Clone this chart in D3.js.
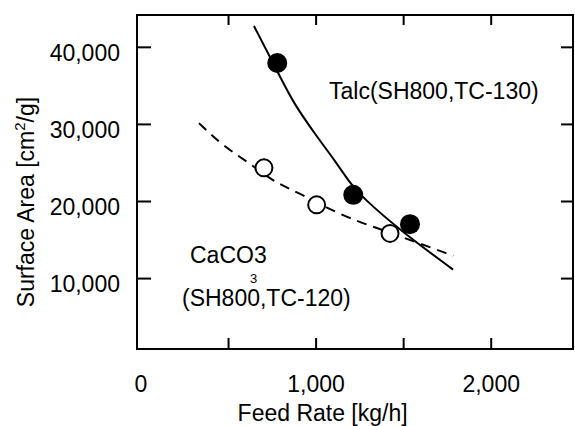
<!DOCTYPE html>
<html>
<head>
<meta charset="utf-8">
<script src="https://cdn.jsdelivr.net/npm/d3@7"></script>
<style>
  html, body { margin: 0; padding: 0; background: #fff; }
  text { font-family: "Liberation Sans", Arial, sans-serif; fill: #000; }
</style>
</head>
<body>
<svg id="chart" width="575" height="426"></svg>
<script>
// ---- data ----
const talcPoints = [[781, 37900], [1215, 20800], [1539, 17000]];
const caco3Points = [[705, 24300], [1006, 19500], [1425, 15800]];
const talcCurve = [[648, 42700], [787, 36600], [873, 32700], [1006, 28400], [1121, 24900],
                   [1197, 22300], [1271, 20400], [1482, 16200], [1785, 11100]];
const caco3Curve = [[334, 30100], [473, 27100], [625, 24900], [758, 22500], [911, 21000],
                    [1139, 18200], [1349, 16500], [1539, 14950], [1786, 12900]];
const xTicks = [500, 1000, 1500, 2000];
const xTickLabels = [0, 1000, 2000];
const yTicks = [10000, 20000, 30000, 40000];
const talcLabel = "Talc(SH800,TC-130)";
const caco3Label1 = "CaCO3";
const caco3Sub = "3";
const caco3Label2 = "(SH800,TC-120)";
const xTitle = "Feed Rate [kg/h]";

// ---- layout ----
const svg = d3.select("#chart");
const L = 137, R = 573, T = 15, B = 349;
const x = d3.scaleLinear().domain([-20, 2470]).range([L, R]);
const y = d3.scaleLinear().domain([800, 44130]).range([B, T]);
const fmt = d3.format(",");
const FS = 23;

// frame
svg.append("rect").attr("x", L).attr("y", T).attr("width", R - L).attr("height", B - T)
  .attr("fill", "none").attr("stroke", "#000").attr("stroke-width", 2);

function styleTicks(g) {
  g.select(".domain").remove();
  g.selectAll(".tick line").attr("stroke", "#000").attr("stroke-width", 2);
}
// inner ticks on all four sides
svg.append("g").attr("transform", `translate(0,${B})`)
  .call(d3.axisBottom(x).tickValues(xTicks).tickSize(-11).tickFormat(""))
  .call(styleTicks);
svg.append("g").attr("transform", `translate(0,${T})`)
  .call(d3.axisTop(x).tickValues(xTicks).tickSize(-10).tickFormat(""))
  .call(styleTicks);
svg.append("g").attr("transform", `translate(${L},0)`)
  .call(d3.axisLeft(y).tickValues(yTicks).tickSize(-14).tickFormat(""))
  .call(styleTicks);
svg.append("g").attr("transform", `translate(${R},0)`)
  .call(d3.axisRight(y).tickValues(yTicks).tickSize(-12).tickFormat(""))
  .call(styleTicks);

// tick labels
const xl = svg.append("g").attr("transform", `translate(0,${B})`)
  .call(d3.axisBottom(x).tickValues(xTickLabels).tickSize(0).tickPadding(27).tickFormat(fmt));
xl.select(".domain").remove();
xl.selectAll("text").attr("font-size", FS).attr("font-family", "Liberation Sans, Arial, sans-serif");

const yl = svg.append("g").attr("transform", `translate(${L},0)`)
  .call(d3.axisLeft(y).tickValues(yTicks).tickSize(0).tickPadding(17).tickFormat(fmt));
yl.select(".domain").remove();
yl.selectAll("text").attr("font-size", FS).attr("dy", "0.6em")
  .attr("font-family", "Liberation Sans, Arial, sans-serif");

// axis titles
svg.append("text").attr("x", (x(1000) + x(1000)) / 2 + 7).attr("y", 421)
  .attr("text-anchor", "middle").attr("font-size", FS).text(xTitle);

const yt = svg.append("text").attr("transform", "translate(34,202) rotate(-90)")
  .attr("text-anchor", "middle").attr("font-size", FS);
yt.append("tspan").text("Surface Area [cm");
yt.append("tspan").attr("dy", -9).attr("font-size", 15).text("2");
yt.append("tspan").attr("dy", 9).text("/g]");

// curves
const line = d3.line().x(d => x(d[0])).y(d => y(d[1])).curve(d3.curveBasis);
svg.append("path").datum(talcCurve).attr("d", line)
  .attr("fill", "none").attr("stroke", "#000").attr("stroke-width", 2);
svg.append("path").datum(caco3Curve).attr("d", line)
  .attr("fill", "none").attr("stroke", "#000").attr("stroke-width", 2)
  .attr("stroke-dasharray", "10,7");

// points
svg.selectAll("circle.talc").data(talcPoints).join("circle").attr("class", "talc")
  .attr("cx", d => x(d[0])).attr("cy", d => y(d[1])).attr("r", 10)
  .attr("fill", "#000");
svg.selectAll("circle.caco3").data(caco3Points).join("circle").attr("class", "caco3")
  .attr("cx", d => x(d[0])).attr("cy", d => y(d[1])).attr("r", 8.5)
  .attr("fill", "#fff").attr("stroke", "#000").attr("stroke-width", 2);

// annotations
svg.append("text").attr("x", 329).attr("y", 99).attr("font-size", FS).text(talcLabel);
svg.append("text").attr("x", 190).attr("y", 263).attr("font-size", FS).text(caco3Label1);
svg.append("text").attr("x", 250).attr("y", 283).attr("font-size", 13).text(caco3Sub);
svg.append("text").attr("x", 182).attr("y", 306).attr("font-size", FS).text(caco3Label2);
</script>
</body>
</html>
